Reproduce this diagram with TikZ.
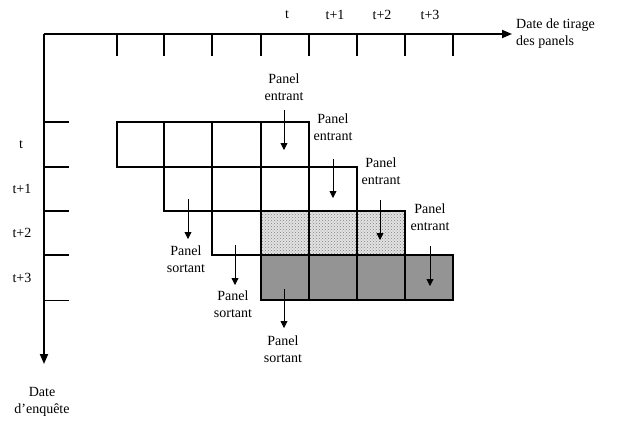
\documentclass[tikz,border=0pt]{standalone}
\usepackage{fontspec}
\setmainfont{Liberation Serif}
\usetikzlibrary{arrows.meta,patterns}
\tikzset{
  axisline/.style={line width=1.8pt,-{Triangle[length=10pt,width=8pt]}},
  tickline/.style={line width=1.5pt},
  cellbox/.style={draw,line width=1.5pt},
  dotcell/.style={cellbox,fill=gray!22},
  graycell/.style={cellbox,fill=black!42},
  flow/.style={line width=0.8pt,-{Triangle[length=7pt,width=7pt]}},
  lab/.style={font=\fontsize{14}{17}\selectfont,align=center,inner sep=0pt},
}
\begin{document}
\begin{tikzpicture}[x=1pt,y=-1pt]
\useasboundingbox (0,0) rectangle (618,423);
% axes
\coordinate (O) at (44,34);
\coordinate (xend) at (512,34);
\coordinate (yend) at (44,364);
\draw[axisline] (O) -- (xend);
\draw[axisline] (O) -- (yend);
\foreach \x in {117,164,212,261,309,357,405,453}
  \draw[tickline] (\x,34) -- (\x,56);
\foreach \y in {122,167,211,255}
  \draw[tickline] (44,\y) -- (69,\y);
\draw[line width=0.8pt] (44,300) -- (69,300);
% axis labels
\node[lab] (tt0) at (287,15) {t};
\node[lab] (tt1) at (335,15) {t+1};
\node[lab] (tt2) at (382,15) {t+2};
\node[lab] (tt3) at (430,15) {t+3};
\node[lab,anchor=west,align=left] (xlab) at (516,34) {Date de tirage\\des panels};
\node[lab] (lt0) at (21,145) {t};
\node[lab] (lt1) at (22,189) {t+1};
\node[lab] (lt2) at (22,233) {t+2};
\node[lab] (lt3) at (22,278) {t+3};
\node[lab] (ylab) at (42,402) {Date\\d’enquête};
% row t
\foreach \a/\b in {117/164,164/212,212/261,261/309}
  \draw[cellbox] (\a,122) rectangle (\b,167);
% row t+1
\foreach \a/\b in {164/212,212/261,261/309,309/357}
  \draw[cellbox] (\a,167) rectangle (\b,211);
% row t+2
\draw[cellbox] (212,211) rectangle (261,255);
\fill[gray!22] (261,211) rectangle (405,255);
\fill[pattern=crosshatch dots,pattern color=gray] (261,211) rectangle (405,255);
\foreach \a/\b in {261/309,309/357,357/405}
  \draw[cellbox] (\a,211) rectangle (\b,255);
% row t+3
\foreach \a/\b in {261/309,309/357,357/405,405/453}
  \draw[graycell] (\a,255) rectangle (\b,300);
% panel entrant
\node[lab] (e1) at (284,87) {Panel\\entrant};
\node[lab] (e2) at (333,127) {Panel\\entrant};
\node[lab] (e3) at (381,171) {Panel\\entrant};
\node[lab] (e4) at (430,217) {Panel\\entrant};
\coordinate (e1a) at (284,110); \coordinate (e1b) at (284,150);
\coordinate (e2a) at (333,159); \coordinate (e2b) at (333,198);
\coordinate (e3a) at (380,200); \coordinate (e3b) at (380,240);
\coordinate (e4a) at (430,246); \coordinate (e4b) at (430,286);
\draw[flow] (e1a) -- (e1b);
\draw[flow] (e2a) -- (e2b);
\draw[flow] (e3a) -- (e3b);
\draw[flow] (e4a) -- (e4b);
% panel sortant
\coordinate (s1a) at (188,199); \coordinate (s1b) at (188,239);
\coordinate (s2a) at (235,245); \coordinate (s2b) at (235,285);
\coordinate (s3a) at (284,289); \coordinate (s3b) at (284,328);
\draw[flow] (s1a) -- (s1b);
\draw[flow] (s2a) -- (s2b);
\draw[flow] (s3a) -- (s3b);
\node[lab] (s1) at (186,259) {Panel\\sortant};
\node[lab] (s2) at (233,304) {Panel\\sortant};
\node[lab] (s3) at (283,349) {Panel\\sortant};
\end{tikzpicture}
\end{document}
